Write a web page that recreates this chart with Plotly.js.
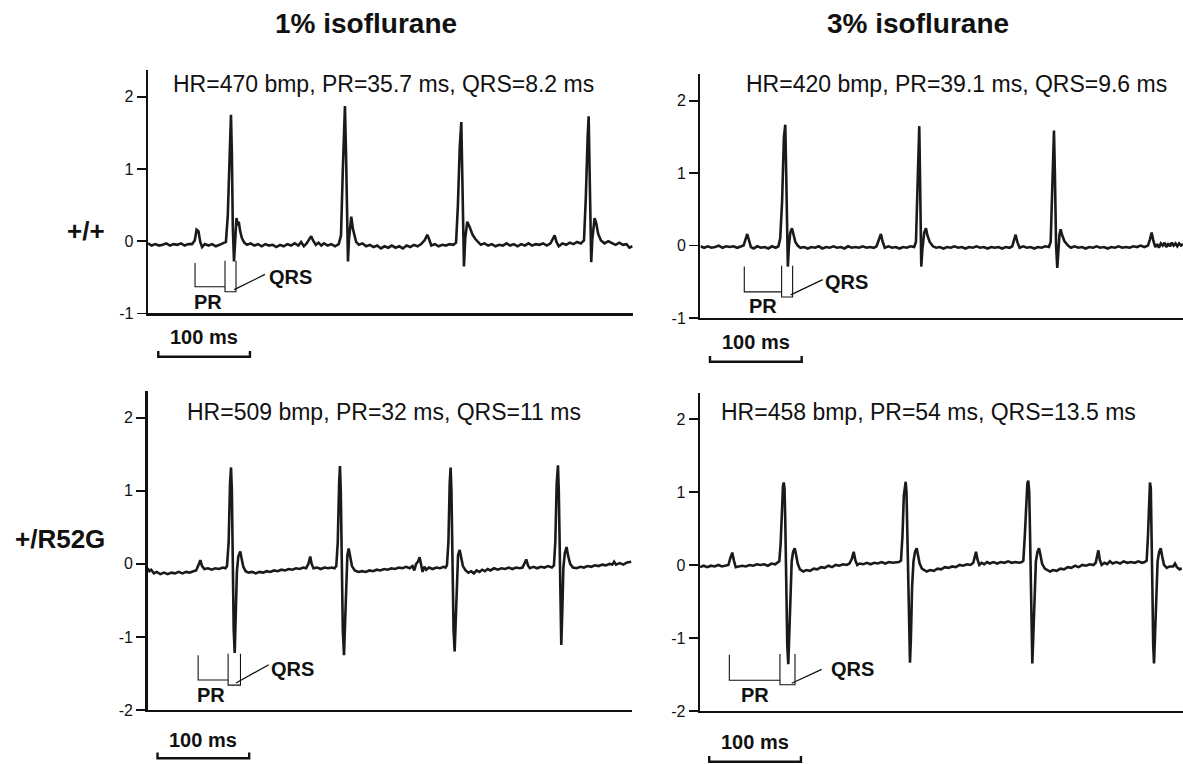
<!DOCTYPE html>
<html>
<head>
<meta charset="utf-8">
<script src="https://cdn.plot.ly/plotly-3.0.1.min.js"></script>
<style>html,body{margin:0;padding:0;background:#fff}#chart{width:1183px;height:764px}</style>
</head>
<body>
<div id="chart"></div>
<script>
// ---------- DATA (time in ms, voltage in mV) ----------
const colTitles = ["1% isoflurane", "3% isoflurane"];
const rowLabels = ["+/+", "+/R52G"];
const hrLabels = [
  "HR=470 bmp, PR=35.7 ms, QRS=8.2 ms",
  "HR=420 bmp, PR=39.1 ms, QRS=9.6 ms",
  "HR=509 bmp, PR=32 ms, QRS=11 ms",
  "HR=458 bmp, PR=54 ms, QRS=13.5 ms"
];
const yTicksTop = [-1, 0, 1, 2];
const yTicksBottom = [-2, -1, 0, 1, 2];
const scaleBarMs = 100;
const prOnset  = [51.3, 47.8, 55.2, 32.0];
const qrsOnset = [84.0, 88.5, 87.9, 87.2];
const qrsOffset = [96.0, 100.5, 101.4, 103.6];

// +/+ , 1% isoflurane
const ecgWT1 = [[0,-0.03],[4,-0.06],[8,-0.04],[12,-0.06],[16,-0.05],[20,-0.03],[24,-0.06],[28,-0.04],[32,-0.05],[36,-0.03],[40,-0.06],[44,-0.04],[48,-0.04],[51,0.01],[53,0.16],[55,0.14],[57,-0.01],[59,-0.08],[62,-0.04],[66,-0.06],[70,-0.04],[74,-0.07],[78,-0.05],[82,-0.03],[85,-0.01],[87,0.35],[89,1.35],[90.5,1.75],[91.5,1.2],[92.5,0.2],[93.8,-0.28],[94.8,-0.02],[96.5,0.32],[98,0.22],[99,0.27],[100.5,0.14],[102.5,0.04],[105,-0.02],[108,-0.05],[112,-0.03],[116,-0.06],[120,-0.04],[124,-0.07],[128,-0.04],[132,-0.06],[136,-0.05],[140,-0.08],[144,-0.05],[148,-0.07],[152,-0.04],[156,-0.06],[160,-0.03],[164,-0.06],[167,-0.01],[170,-0.07],[173,-0.03],[176,0.04],[178,0.07],[180,0.01],[183,-0.05],[186,-0.02],[189,-0.06],[192,-0.03],[196,-0.06],[200,-0.04],[204,-0.07],[208,-0.04],[210.5,0.08],[212.5,1.0],[214.8,1.87],[216,1.2],[217,0.2],[218.1,-0.28],[219.2,0.03],[221.7,0.34],[223.5,0.17],[225,0.07],[227,-0.01],[230,-0.05],[234,-0.03],[238,-0.07],[242,-0.05],[246,-0.08],[250,-0.06],[254,-0.10],[258,-0.07],[262,-0.09],[266,-0.06],[270,-0.09],[274,-0.07],[278,-0.10],[282,-0.06],[286,-0.08],[290,-0.05],[294,-0.07],[298,-0.04],[302,0.02],[304.6,0.09],[306.5,0.03],[309,-0.06],[313,-0.04],[317,-0.07],[321,-0.05],[325,-0.06],[329,-0.04],[333,-0.05],[336,-0.02],[338,0.5],[340,1.3],[341.7,1.65],[342.8,0.9],[343.8,0.0],[344.6,-0.35],[346,0.04],[348.2,0.27],[351,0.19],[354,0.09],[357,0.03],[360,-0.01],[363,-0.05],[367,-0.03],[371,-0.06],[375,-0.04],[379,-0.07],[383,-0.05],[387,-0.06],[391,-0.03],[395,-0.06],[399,-0.04],[403,-0.07],[407,-0.04],[411,-0.06],[415,-0.03],[419,-0.06],[423,-0.04],[427,-0.05],[431,-0.03],[435,-0.06],[439,-0.03],[441,0.03],[443.5,0.08],[445.5,-0.01],[448,-0.07],[452,-0.03],[456,-0.05],[460,-0.02],[464,-0.04],[468,-0.01],[472,-0.03],[475.5,0.01],[477.5,0.6],[479.5,1.45],[480.6,1.73],[481.6,1.0],[482.6,0.1],[483.4,-0.29],[484.6,0.03],[486,0.2],[487.1,0.32],[489,0.24],[491,0.1],[494,0.01],[498,-0.03],[502,0.0],[506,-0.03],[510,-0.05],[514,-0.02],[518,-0.05],[522,-0.04],[525,-0.09],[528.5,-0.07]];

// +/+ , 3% isoflurane
const ecgWT3 = [[0,-0.01],[4,-0.03],[8,-0.01],[12,-0.03],[16,-0.02],[20,0.0],[24,-0.03],[28,-0.01],[32,-0.02],[36,-0.01],[40,-0.03],[44,-0.01],[47,0.0],[49,0.08],[51,0.16],[53,0.07],[55,-0.02],[58,-0.04],[62,-0.01],[66,-0.03],[70,-0.02],[74,-0.04],[78,-0.01],[82,-0.03],[85,-0.01],[87,0.1],[89,0.6],[91,1.5],[92.5,1.67],[93.5,1.0],[94.3,0.1],[95.3,-0.29],[96.5,0.0],[98,0.18],[99.8,0.24],[101.5,0.15],[103.5,0.05],[106,0.0],[109,-0.03],[113,-0.02],[117,-0.04],[121,-0.02],[125,-0.03],[129,-0.01],[133,-0.04],[137,-0.02],[141,-0.03],[145,-0.01],[149,-0.03],[153,-0.02],[157,-0.04],[161,-0.01],[165,-0.03],[169,-0.02],[173,-0.03],[177,-0.01],[181,-0.03],[185,-0.02],[189,-0.03],[192,-0.01],[194.5,0.08],[196.8,0.16],[198.5,0.06],[201,-0.03],[205,-0.01],[209,-0.03],[213,-0.02],[217,-0.04],[221,-0.02],[225,-0.03],[229,-0.01],[233,-0.02],[235,0.05],[236.5,0.8],[238.6,1.65],[239.5,0.9],[240.8,-0.29],[242,-0.05],[244,0.18],[245.9,0.24],[247.5,0.14],[250,0.05],[253.5,-0.01],[257,-0.03],[261,-0.02],[265,-0.04],[269,-0.02],[273,-0.03],[277,-0.01],[281,-0.03],[285,-0.02],[289,-0.04],[293,-0.02],[297,-0.03],[301,-0.01],[305,-0.03],[309,-0.02],[313,-0.04],[317,-0.02],[321,-0.03],[325,-0.02],[329,-0.04],[333,-0.02],[337,-0.03],[340,-0.01],[342,0.08],[343.7,0.15],[345.5,0.05],[348,-0.03],[352,-0.01],[356,-0.03],[360,-0.02],[364,-0.04],[368,-0.02],[372,-0.03],[376,-0.01],[380,-0.02],[381.9,0.05],[383.5,0.8],[385.5,1.59],[386.5,1.0],[387.8,0.0],[389.1,-0.31],[390.3,-0.05],[391.5,0.15],[392.8,0.225],[394.5,0.14],[397,0.06],[400.8,0.0],[404,-0.03],[408,-0.01],[412,-0.03],[416,-0.02],[420,-0.04],[424,-0.02],[428,-0.03],[432,-0.01],[436,-0.03],[440,-0.02],[444,-0.04],[448,-0.02],[452,-0.03],[456,-0.01],[460,-0.03],[464,-0.02],[468,-0.03],[472,-0.01],[476,-0.02],[480,0.0],[484,-0.02],[488,0.0],[490,0.08],[492,0.18],[494,0.06],[496,-0.02],[498,0.02],[500,-0.03],[502,0.03],[504,0.0],[506,0.04],[508,-0.02],[510,0.03],[512,-0.01],[514,0.04],[516,0.0],[518,0.03],[520,-0.01],[522,0.03],[524,0.0],[526.2,0.02]];

// +/R52G , 1% isoflurane
const ecgMut1 = [[0,-0.06],[2,-0.10],[4,-0.08],[7,-0.13],[10,-0.11],[14,-0.14],[18,-0.12],[22,-0.14],[26,-0.12],[30,-0.13],[34,-0.11],[38,-0.13],[42,-0.11],[46,-0.12],[50,-0.10],[53,-0.09],[55.5,-0.02],[57.6,0.05],[59.5,-0.03],[62,-0.07],[66,-0.06],[70,-0.08],[74,-0.06],[78,-0.07],[82,-0.05],[85,-0.06],[86.7,-0.03],[88.5,0.3],[90,1.1],[91.1,1.32],[92,1.0],[93,0.0],[94,-0.9],[95.1,-1.22],[96.2,-0.8],[97.5,-0.1],[99,0.1],[101.2,0.17],[102.5,0.08],[104.5,-0.04],[107,-0.10],[110,-0.12],[114,-0.11],[118,-0.13],[122,-0.11],[126,-0.12],[130,-0.10],[134,-0.11],[138,-0.09],[142,-0.10],[146,-0.08],[150,-0.09],[154,-0.07],[158,-0.08],[162,-0.06],[166,-0.07],[170,-0.05],[173,-0.06],[175.5,0.0],[177.5,0.10],[179,0.0],[181,-0.06],[185,-0.05],[189,-0.07],[193,-0.05],[197,-0.06],[201,-0.05],[204,-0.06],[205.9,-0.03],[207.5,0.3],[209,1.1],[209.9,1.34],[210.8,1.0],[211.9,0.0],[213,-0.9],[214.3,-1.25],[215.5,-0.8],[216.8,-0.1],[218,0.12],[219.4,0.21],[220.8,0.1],[223,-0.03],[226,-0.09],[230,-0.11],[234,-0.10],[238,-0.11],[242,-0.09],[246,-0.10],[250,-0.08],[254,-0.09],[258,-0.07],[262,-0.08],[266,-0.06],[270,-0.07],[274,-0.05],[278,-0.06],[282,-0.04],[286,-0.06],[289,-0.03],[291,-0.09],[293,0.0],[295,0.03],[296.8,0.09],[298.5,-0.02],[300,-0.11],[302,-0.04],[304,-0.08],[307,-0.05],[311,-0.07],[315,-0.05],[319,-0.06],[323,-0.04],[325,-0.05],[326.6,-0.02],[328.2,0.3],[329.6,1.1],[330.6,1.32],[331.5,1.0],[332.6,0.0],[333.8,-0.9],[335,-1.20],[336.1,-0.8],[337.4,-0.1],[338.7,0.12],[340.5,0.19],[341.8,0.1],[344,-0.03],[347,-0.09],[350,-0.12],[353,-0.10],[356,-0.13],[359,-0.09],[362,-0.11],[365,-0.08],[368,-0.10],[371,-0.07],[374,-0.09],[378,-0.06],[382,-0.08],[386,-0.06],[390,-0.07],[394,-0.05],[398,-0.07],[402,-0.05],[406,-0.06],[409,-0.05],[411,0.0],[413.1,0.06],[415,-0.02],[417,-0.06],[421,-0.04],[425,-0.06],[429,-0.04],[433,-0.05],[437,-0.03],[441,-0.05],[443.3,-0.02],[444.8,0.3],[446.3,1.1],[447.7,1.35],[448.6,1.0],[449.6,0.0],[450.4,-0.8],[451.3,-1.11],[452.3,-0.7],[453.6,-0.05],[455.2,0.15],[457.1,0.23],[458.6,0.12],[461,0.0],[464,-0.05],[468,-0.06],[472,-0.04],[476,-0.05],[480,-0.03],[484,-0.04],[488,-0.02],[492,-0.03],[496,-0.01],[500,-0.02],[504,0.0],[507,-0.01],[509,0.03],[511,-0.01],[515,0.01],[519,-0.01],[523,0.02],[527.6,0.03]];

// +/R52G , 3% isoflurane
const ecgMut3 = [[0,-0.03],[4,-0.01],[8,-0.03],[12,-0.01],[16,-0.02],[20,0.0],[24,-0.02],[28,-0.01],[31,0.0],[33,0.09],[35.2,0.17],[37,0.06],[39,-0.03],[42,-0.02],[46,-0.01],[50,-0.02],[54,0.0],[58,-0.01],[62,0.01],[66,0.0],[70,0.01],[74,-0.01],[78,0.02],[82,0.01],[85,0.03],[86.5,0.05],[88,0.3],[89.5,0.85],[90.5,1.08],[91.3,1.13],[92.2,1.05],[93,0.6],[94,-0.2],[95.2,-1.1],[96.3,-1.36],[97.3,-1.0],[98.5,-0.3],[100,0.05],[101.5,0.18],[103.3,0.23],[104.8,0.14],[106.5,0.02],[109,-0.06],[112.7,-0.09],[116,-0.07],[120,-0.08],[124,-0.05],[128,-0.06],[132,-0.03],[136,-0.04],[140,-0.01],[144,-0.03],[148,0.0],[152,-0.01],[156,0.01],[160,0.0],[163,0.02],[165.5,0.08],[167.6,0.18],[169.5,0.06],[171.5,0.0],[174,0.02],[178,0.01],[182,0.03],[186,0.01],[190,0.03],[194,0.02],[198,0.04],[202,0.02],[206,0.04],[210,0.03],[214,0.04],[217,0.04],[219.2,0.06],[220.8,0.4],[222.3,0.95],[223.3,1.1],[224.3,1.14],[225.2,1.0],[226,0.5],[227,-0.3],[228,-1.1],[229,-1.34],[230,-1.0],[231.3,-0.3],[232.8,0.05],[234.5,0.18],[236.3,0.23],[237.8,0.14],[239.5,0.02],[242,-0.05],[247.2,-0.09],[251,-0.07],[255,-0.08],[259,-0.05],[263,-0.06],[267,-0.03],[271,-0.04],[275,-0.02],[279,-0.03],[283,0.0],[287,-0.01],[291,0.01],[295,0.0],[298,0.03],[299.5,0.1],[301,0.18],[302.5,0.08],[304.5,0.0],[307,0.03],[310,0.01],[313,0.04],[316,0.02],[320,0.04],[324,0.02],[328,0.04],[332,0.03],[336,0.05],[340,0.03],[344,0.04],[348,0.03],[351,0.04],[352.6,0.06],[354.2,0.4],[355.8,0.95],[357,1.12],[358,1.155],[359,1.0],[359.8,0.5],[360.6,-0.3],[361.5,-1.1],[362.4,-1.35],[363.4,-1.0],[364.8,-0.3],[366.3,0.05],[368,0.18],[369.7,0.23],[371.2,0.14],[373,0.02],[376,-0.05],[381.7,-0.09],[385,-0.07],[389,-0.08],[393,-0.05],[397,-0.06],[401,-0.03],[405,-0.04],[409,-0.01],[413,-0.03],[417,0.0],[421,-0.01],[425,0.01],[429,0.0],[431.5,0.03],[432.8,0.1],[434.4,0.2],[436,0.07],[438,0.0],[441,0.03],[444,0.01],[447,0.05],[450,0.02],[454,0.04],[458,0.02],[462,0.05],[466,0.03],[470,0.04],[474,0.03],[478,0.05],[482,0.03],[485,0.04],[487.1,0.06],[488.5,0.4],[489.8,1.0],[490.7,1.13],[491.6,1.05],[492.5,0.5],[493.3,-0.3],[494.2,-1.1],[495.1,-1.35],[496.1,-1.0],[497.5,-0.3],[499,0.05],[500.7,0.18],[502.4,0.23],[504,0.12],[506,0.0],[509,-0.04],[512,-0.02],[515.9,-0.02],[518,0.02],[520,-0.03],[523,-0.06],[525.3,-0.045]];

const ecgSeries = [ecgWT1, ecgWT3, ecgMut1, ecgMut3];

// ---------- LAYOUT (positions / styles) ----------
const FONT = 'Liberation Sans, Arial, Helvetica, sans-serif';
const INK = '#111';
const panels = [
  {xd:[0.1251,0.5348], xr:[0,528.6], yd:[0.5897,0.9084], yr:[-1,2.37], ticks:yTicksTop,
   prY:[-0.30,-0.63], qrsY:[-0.27,-0.70], conn:[94,-0.67,127.6,-0.46], qrsTxt:[154.9,-0.49], prTxt:[65.8,-0.84],
   hr:[257,2.18], barStart:11.2, barY:0.5331, barTxtY:0.5593},
  {xd:[0.5921,1.0], xr:[0,526.2], yd:[0.5838,0.9031], yr:[-1,2.37], ticks:yTicksTop,
   prY:[-0.29,-0.64], qrsY:[-0.28,-0.71], conn:[98.4,-0.68,133.3,-0.47], qrsTxt:[159.4,-0.50], prTxt:[68.5,-0.83],
   hr:[279.7,2.23], barStart:10.4, barY:0.5266, barTxtY:0.5527},
  {xd:[0.1247,0.5342], xr:[0,528.4], yd:[0.0707,0.4876], yr:[-2,2.36], ticks:yTicksBottom,
   prY:[-1.25,-1.59], qrsY:[-1.23,-1.66], conn:[96.5,-1.63,132.2,-1.38], qrsTxt:[158.4,-1.44], prTxt:[69.2,-1.79],
   hr:[257.7,2.08], barStart:10.9, barY:0.0075, barTxtY:0.0314},
  {xd:[0.5917,1.0], xr:[0,526.7], yd:[0.0694,0.4860], yr:[-2,2.36], ticks:yTicksBottom,
   prY:[-1.23,-1.58], qrsY:[-1.22,-1.64], conn:[100,-1.62,132.7,-1.43], qrsTxt:[166.7,-1.43], prTxt:[60,-1.78],
   hr:[249.2,2.10], barStart:10.1, barY:0.003, barTxtY:0.029}
];

const traces = [];
const layout = {
  width: 1183, height: 764,
  margin: {l:0, r:0, t:0, b:0},
  paper_bgcolor: '#fff', plot_bgcolor: 'rgba(0,0,0,0)',
  showlegend: false,
  font: {family: FONT, color: INK},
  annotations: [], shapes: []
};

panels.forEach((p, i) => {
  const xn = i === 0 ? 'x' : 'x' + (i + 1);
  const yn = i === 0 ? 'y' : 'y' + (i + 1);
  const xk = i === 0 ? 'xaxis' : 'xaxis' + (i + 1);
  const yk = i === 0 ? 'yaxis' : 'yaxis' + (i + 1);
  const d = ecgSeries[i];
  traces.push({
    type: 'scatter', mode: 'lines',
    x: d.map(q => q[0]), y: d.map(q => q[1]),
    xaxis: xn, yaxis: yn,
    line: {color: '#1a1a1a', width: 2.6},
    hoverinfo: 'skip'
  });
  layout[xk] = {
    domain: p.xd, range: p.xr, anchor: yn,
    showline: true, linewidth: 2.4, linecolor: INK,
    showticklabels: false, ticks: '', showgrid: false, zeroline: false, fixedrange: true
  };
  layout[yk] = {
    domain: p.yd, range: p.yr, anchor: xn,
    showline: true, linewidth: 2.4, linecolor: INK,
    ticks: 'outside', ticklen: 9, tickwidth: 1.8, tickcolor: INK,
    tickvals: p.ticks, ticktext: p.ticks.map(String),
    tickfont: {family: FONT, size: 16, color: INK},
    showgrid: false, zeroline: false, fixedrange: true
  };
  // HR text
  layout.annotations.push({
    text: hrLabels[i], xref: xn, yref: yn, x: p.hr[0], y: p.hr[1],
    xanchor: 'center', yanchor: 'middle', showarrow: false,
    font: {family: FONT, size: 23, color: INK}
  });
  // PR / QRS labels
  layout.annotations.push({
    text: '<b>PR</b>', xref: xn, yref: yn, x: p.prTxt[0], y: p.prTxt[1],
    xanchor: 'center', yanchor: 'middle', showarrow: false,
    font: {family: FONT, size: 20, color: INK}
  });
  layout.annotations.push({
    text: '<b>QRS</b>', xref: xn, yref: yn, x: p.qrsTxt[0], y: p.qrsTxt[1],
    xanchor: 'center', yanchor: 'middle', showarrow: false,
    font: {family: FONT, size: 20, color: INK}
  });
  // brackets
  layout.shapes.push({
    type: 'path', xref: xn, yref: yn,
    path: `M ${prOnset[i]},${p.prY[0]} L ${prOnset[i]},${p.prY[1]} L ${qrsOnset[i]},${p.prY[1]}`,
    line: {color: INK, width: 1.1}
  });
  layout.shapes.push({
    type: 'path', xref: xn, yref: yn,
    path: `M ${qrsOnset[i]},${p.qrsY[0]} L ${qrsOnset[i]},${p.qrsY[1]} L ${qrsOffset[i]},${p.qrsY[1]} L ${qrsOffset[i]},${p.qrsY[0]}`,
    line: {color: INK, width: 1.1}
  });
  layout.shapes.push({
    type: 'line', xref: xn, yref: yn,
    x0: p.conn[0], y0: p.conn[1], x1: p.conn[2], y1: p.conn[3],
    line: {color: INK, width: 1.3}
  });
  // 100 ms scale bar
  const b0 = p.barStart, b1 = p.barStart + scaleBarMs;
  layout.shapes.push({
    type: 'path', xref: xn, yref: 'paper',
    path: `M ${b0},${p.barY + 0.0075} L ${b0},${p.barY} L ${b1},${p.barY} L ${b1},${p.barY + 0.0075}`,
    line: {color: INK, width: 2.4}
  });
  layout.annotations.push({
    text: '<b>' + scaleBarMs + ' ms</b>', xref: xn, yref: 'paper',
    x: (b0 + b1) / 2, y: p.barTxtY, xanchor: 'center', yanchor: 'middle', showarrow: false,
    font: {family: FONT, size: 20, color: INK}
  });
});

// column titles
[[0.3094, colTitles[0]], [0.776, colTitles[1]]].forEach(c => {
  layout.annotations.push({
    text: '<b>' + c[1] + '</b>', xref: 'paper', yref: 'paper', x: c[0], y: 0.9695,
    xanchor: 'center', yanchor: 'middle', showarrow: false,
    font: {family: FONT, size: 28, color: INK}
  });
});
// row labels
[[0.698, rowLabels[0]], [0.2942, rowLabels[1]]].forEach(r => {
  layout.annotations.push({
    text: '<b>' + r[1] + '</b>', xref: 'paper', yref: 'paper', x: 0.0907, y: r[0],
    xanchor: 'right', yanchor: 'middle', showarrow: false,
    font: {family: FONT, size: 26, color: INK}
  });
});

Plotly.newPlot('chart', traces, layout, {staticPlot: true, displayModeBar: false});
</script>
</body>
</html>
